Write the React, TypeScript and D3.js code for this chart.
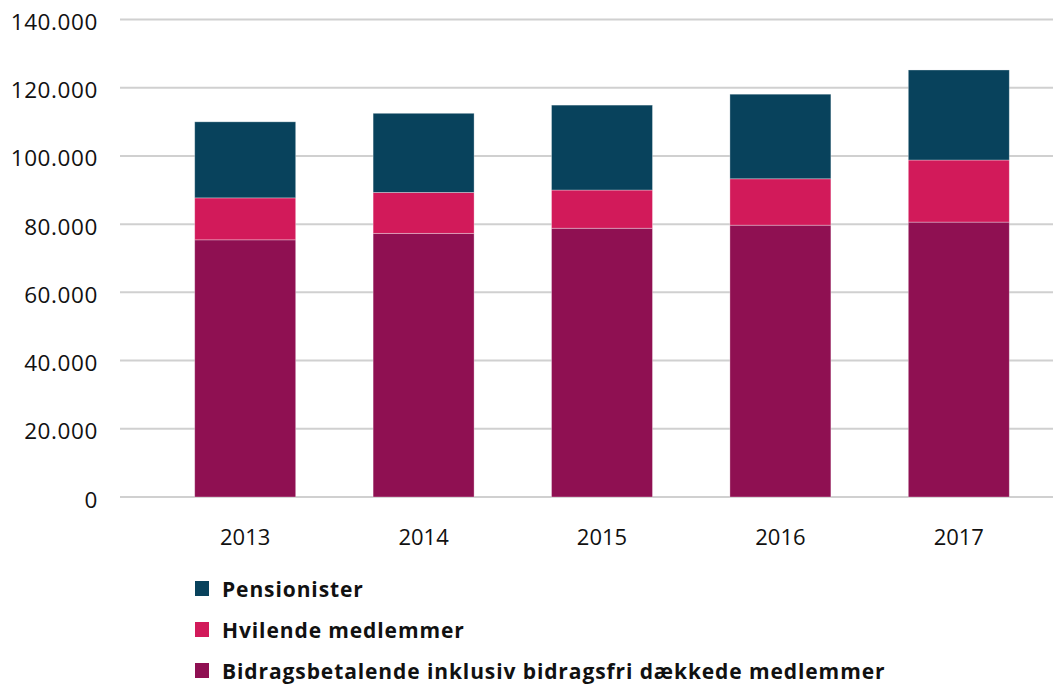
import React from "react";
import * as d3 from "d3";

const years = ["2013", "2014", "2015", "2016", "2017"];
const bidragsbetalende = [75400, 77300, 78800, 79700, 80600];
const hvilende = [12300, 12000, 11200, 13600, 18200];
const pensionister = [22300, 23200, 24900, 24800, 26400];
const yTicks = [0, 20000, 40000, 60000, 80000, 100000, 120000, 140000];

const seriesNames = [
  "Bidragsbetalende inklusiv bidragsfri dækkede medlemmer",
  "Hvilende medlemmer",
  "Pensionister",
];
const colors = ["#8F1052", "#D21A5A", "#08425C"];

const W = 1053;
const H = 684;
const FONT = "'Open Sans', sans-serif";

export default function App() {
  const x = d3
    .scaleBand<string>()
    .domain(years)
    .range([156, 1048])
    .paddingInner(0.434)
    .paddingOuter(0.217);
  const y = d3.scaleLinear().domain([0, 140000]).range([497, 19.5]);

  const rows = years.map((yr, i) => ({
    year: yr,
    s0: bidragsbetalende[i],
    s1: hvilende[i],
    s2: pensionister[i],
  }));
  const stack = d3.stack<any>().keys(["s0", "s1", "s2"])(rows);
  const fmt = (v: number) => d3.format(",")(v).replace(/,/g, ".");

  const legendOrder = [2, 1, 0];

  return (
    <svg
      width={W}
      height={H}
      style={{ position: "absolute", left: 0, top: 0, background: "#fff" }}
    >
      {yTicks.map((t) => (
        <g key={t}>
          <line x1={120} x2={W} y1={y(t)} y2={y(t)} stroke="#d0d0d0" strokeWidth={2} />
          <text
            x={98}
            y={y(t) + 10.5}
            textAnchor="end"
            fontFamily={FONT}
            fontSize={22.5}
            letterSpacing={0.6}
            fill="#111"
          >
            {fmt(t)}
          </text>
        </g>
      ))}
      {stack.map((layer, li) => (
        <g key={li} fill={colors[li]}>
          {layer.map((d: any, i: number) => (
            <rect
              key={i}
              x={x(years[i])}
              width={x.bandwidth()}
              y={y(d[1])}
              height={y(d[0]) - y(d[1])}
              stroke="rgba(255,255,255,0.4)"
              strokeWidth={0.8}
            />
          ))}
        </g>
      ))}
      {years.map((yr) => (
        <text
          key={yr}
          x={(x(yr) as number) + x.bandwidth() / 2}
          y={545}
          textAnchor="middle"
          fontFamily={FONT}
          fontSize={22}
          fill="#111"
        >
          {yr}
        </text>
      ))}
      {legendOrder.map((si, k) => (
        <g key={si} transform={`translate(195, ${581 + k * 41})`}>
          <rect width={14} height={15} fill={colors[si]} />
          <text
            x={27}
            y={16}
            fontFamily={FONT}
            fontWeight={700}
            fontSize={21}
            letterSpacing={0.9}
            fill="#111"
          >
            {seriesNames[si]}
          </text>
        </g>
      ))}
    </svg>
  );
}
